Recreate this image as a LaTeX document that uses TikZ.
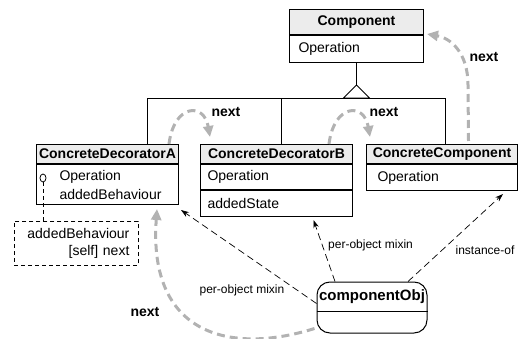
\documentclass[tikz,border=0pt]{standalone}
\usepackage{fontspec}
\setmainfont{Liberation Sans}
\usetikzlibrary{arrows.meta,shapes.geometric}
\newcommand{\boxfont}{\fontsize{14}{19}\selectfont}
\newcommand{\labfont}{\fontsize{12}{14}\selectfont}
\tikzset{
  head/.style    = {draw,line width=1pt,fill=gray!15,font=\boxfont\bfseries,inner sep=0pt,anchor=north west},
  part/.style    = {draw,line width=1pt,font=\boxfont,inner ysep=0pt,anchor=north west,align=left},
  mixin/.style   = {-{Stealth[length=8pt,width=5.5pt]},dash pattern=on 7pt off 4pt,line width=0.7pt},
  nextarr/.style = {-{Triangle[length=11pt,width=10pt]},gray!60,line width=3pt,dash pattern=on 8pt off 5pt},
  linklab/.style = {font=\labfont,inner sep=0pt},
  nextlab/.style = {font=\boxfont\bfseries,inner sep=0pt}
}

\begin{document}
\begin{tikzpicture}[x=1pt,y=-1pt]
  \useasboundingbox (0,0) rectangle (519,339);
  % classes
  \node[head,minimum width=134pt,minimum height=25pt] (compH) at (289,9) {Component};
  \node[part,inner xsep=9pt,text width=116pt,minimum height=27pt] (compB) at (compH.south west) {Operation};

  \node[head,minimum width=142pt,minimum height=19pt] (decAH) at (36,144) {ConcreteDecoratorA};
  \node[part,inner xsep=23pt,text width=96pt,minimum height=40pt] (decAB) at (decAH.south west)
    {\mbox{Operation}\\\mbox{addedBehaviour}};

  \node[head,minimum width=152pt,minimum height=19pt] (decBH) at (200,144) {ConcreteDecoratorB};
  \node[part,inner xsep=7pt,text width=138pt,minimum height=25pt] (decB1) at (decBH.south west) {Operation};
  \node[part,inner xsep=7pt,text width=138pt,minimum height=26pt] (decB2) at (decB1.south west) {addedState};

  \node[head,minimum width=151pt,minimum height=19pt] (ccH) at (366,144) {ConcreteComponent};
  \node[part,inner xsep=11pt,text width=129pt,minimum height=26pt] (ccB) at (ccH.south west) {Operation};

  % generalization
  \coordinate (apex) at ([yshift=-22pt]compB.south);
  \coordinate (bar) at ([yshift=-13pt]apex);
  \draw[line width=0.8pt] (compB.south) -- (apex);
  \draw[line width=0.8pt] ([xshift=40pt]decAH.north) |- (bar);
  \draw[line width=0.8pt] ([xshift=5pt]decBH.north) |- (bar);
  \draw[line width=0.8pt] ([xshift=3.5pt]ccH.north) |- (bar);
  \draw[line width=0.8pt,fill=white] (apex) -- ++(-13,13) -- ++(26,0) -- cycle;

  % method note
  \node[ellipse,draw,line width=0.8pt,inner sep=0pt,minimum width=6pt,minimum height=8pt] (opmark) at ([shift={(7,14)}]decAB.north west) {};
  \node[draw,dash pattern=on 4pt off 3pt,line width=0.8pt,anchor=north west,font=\fontsize{14}{17}\selectfont,
        text width=106pt,inner xsep=9pt,align=right,minimum height=44pt] (note)
    at ([shift={(-22,16)}]decAB.south west) {addedBehaviour\\{[self]} next};
  \draw[dash pattern=on 4pt off 3pt,line width=0.8pt] (opmark.south) -- (opmark.south |- note.north);

  % object
  \node[draw,line width=1pt,rounded corners=13pt,minimum width=110pt,minimum height=51pt] (obj) at (372,307.5) {};
  \node[nextlab,font=\fontsize{15}{19}\selectfont\bfseries] (objname) at ([yshift=10.5pt]obj.center) {componentObj};
  \draw[line width=1pt] ([yshift=-3.5pt]obj.west) -- ([yshift=-3.5pt]obj.east);

  % links of the object
  \draw[mixin] ([yshift=4pt]obj.west) -- ([shift={(2,5)}]decAB.south east);
  \draw[mixin] ([xshift=-37pt]obj.north) -- ([shift={(37,3)}]decB2.south);
  \draw[mixin] ([xshift=36pt]obj.north) -- ([shift={(-15,3)}]ccB.south east);
  \node[linklab] (mixA) at (242,290) {per-object mixin};
  \node[linklab,anchor=west] (mixB) at (328,245) {per-object mixin};
  \node[linklab] (inst) at (485,250) {instance-of};

  % next chain
  \draw[nextarr] ([shift={(-2,-5)}]obj.south west) .. controls (230,355) and (148,335) .. ([shift={(-22,4)}]decAB.south east);
  \draw[nextarr] ([xshift=-10pt]decAH.north east) .. controls (174,104) and (204,102) .. ([shift={(10,-7)}]decBH.north west);
  \draw[nextarr] ([xshift=-24pt]decBH.north east) .. controls (334,104) and (364,102) .. ([shift={(4,-7)}]ccH.north west);
  \draw[nextarr] ([shift={(26.5,-3)}]ccH.north) -- (468,85) .. controls (468,52) and (450,38) .. ([shift={(3,-1)}]compH.south east);
  \node[nextlab] (nextA) at (145,312) {next};
  \node[nextlab] (nextB) at (226,112) {next};
  \node[nextlab] (nextC) at (384,112) {next};
  \node[nextlab] (nextD) at (484,57) {next};
\end{tikzpicture}
\end{document}
